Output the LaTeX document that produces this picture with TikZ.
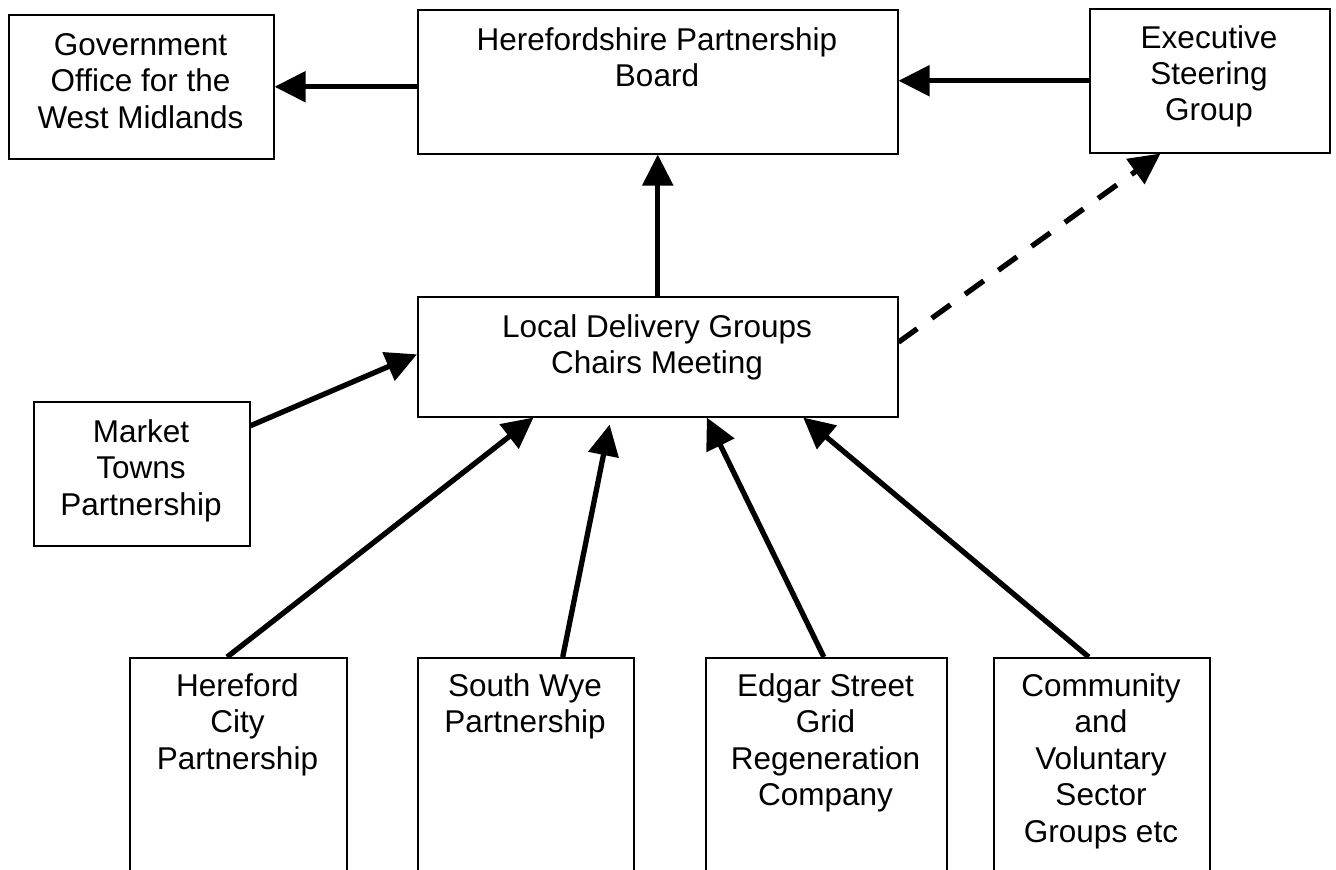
\documentclass[tikz,border=0pt]{standalone}
\usepackage{fontspec}
\setmainfont{Liberation Sans}
\usetikzlibrary{arrows.meta,calc}
\tikzset{
  box/.style={draw, line width=1.5pt, inner sep=0pt, anchor=north west},
  lab/.style={anchor=base, inner sep=0pt, font=\fontsize{31.5}{36.5}\selectfont},
  arr/.style={line width=5.3pt, -{Triangle[length=31pt,width=30pt]}},
  dsh/.style={arr, dash pattern=on 23pt off 18pt},
}
\begin{document}
\begin{tikzpicture}[x=1pt,y=-1pt]
\fill[white] (0,0) rectangle (1336,870);
\clip (0,0) rectangle (1336,870);
% boxes
\node[box, minimum width=265pt, minimum height=144pt] (gov) at (8,14) {};
\node[box, minimum width=480pt, minimum height=144pt] (board) at (417,9) {};
\node[box, minimum width=240pt, minimum height=144pt] (exec) at (1089,8) {};
\node[box, minimum width=480pt, minimum height=120pt] (ldg) at (417,296) {};
\node[box, minimum width=216pt, minimum height=144pt] (mkt) at (33,401) {};
\node[box, minimum width=217pt, minimum height=240pt] (hc) at (129,657) {};
\node[box, minimum width=216pt, minimum height=240pt] (sw) at (417,657) {};
\node[box, minimum width=241pt, minimum height=240pt] (es) at (705,657) {};
\node[box, minimum width=216pt, minimum height=240pt] (cv) at (993,657) {};
% texts
\node[lab] (gov-t) at (140.5,55) {\parbox[t]{300pt}{\centering Government\\Office for the\\West Midlands}};
\node[lab] (board-t) at (657,50) {\parbox[t]{460pt}{\centering Herefordshire Partnership\\Board}};
\node[lab] (exec-t) at (1209,48) {\parbox[t]{300pt}{\centering Executive\\Steering\\Group}};
\node[lab] (ldg-t) at (657,337) {\parbox[t]{460pt}{\centering Local Delivery Groups\\Chairs Meeting}};
\node[lab] (mkt-t) at (141,442) {\parbox[t]{300pt}{\centering Market\\Towns\\Partnership}};
\node[lab] (hc-t) at (237.5,696) {\parbox[t]{300pt}{\centering Hereford\\City\\Partnership}};
\node[lab] (sw-t) at (525,696) {\parbox[t]{300pt}{\centering South Wye\\Partnership}};
\node[lab] (es-t) at (825.5,696) {\parbox[t]{300pt}{\centering Edgar Street\\Grid\\Regeneration\\Company}};
\node[lab] (cv-t) at (1101,696) {\parbox[t]{300pt}{\centering Community\\and\\Voluntary\\Sector\\Groups etc}};
% connectors
\draw[arr] (board.west |- gov.east) -- (gov.east);
\draw[arr] (exec.west) -- (exec.west -| board.east);
\draw[arr] (ldg.north) -- (board.south);
\draw[dsh] ($(ldg.north east)!0.38!(ldg.south east)$) -- ($(exec.south west)!0.296!(exec.south east)$);
\draw[arr] ($(mkt.north east)!0.17!(mkt.south east)$) -- ($(ldg.north west)!0.48!(ldg.south west)$);
\draw[arr] ($(hc.north west)!0.449!(hc.north east)$) -- ($(ldg.south west)!0.242!(ldg.south east)$);
\draw[arr] ($(sw.north west)!0.67!(sw.north east)$) -- ([yshift=-7pt]$(ldg.south west)!0.4!(ldg.south east)$);
\draw[arr] ($(es.north west)!0.49!(es.north east)$) -- ($(ldg.south west)!0.602!(ldg.south east)$);
\draw[arr] ($(cv.north west)!0.44!(cv.north east)$) -- ($(ldg.south west)!0.802!(ldg.south east)$);
\end{tikzpicture}
\end{document}
